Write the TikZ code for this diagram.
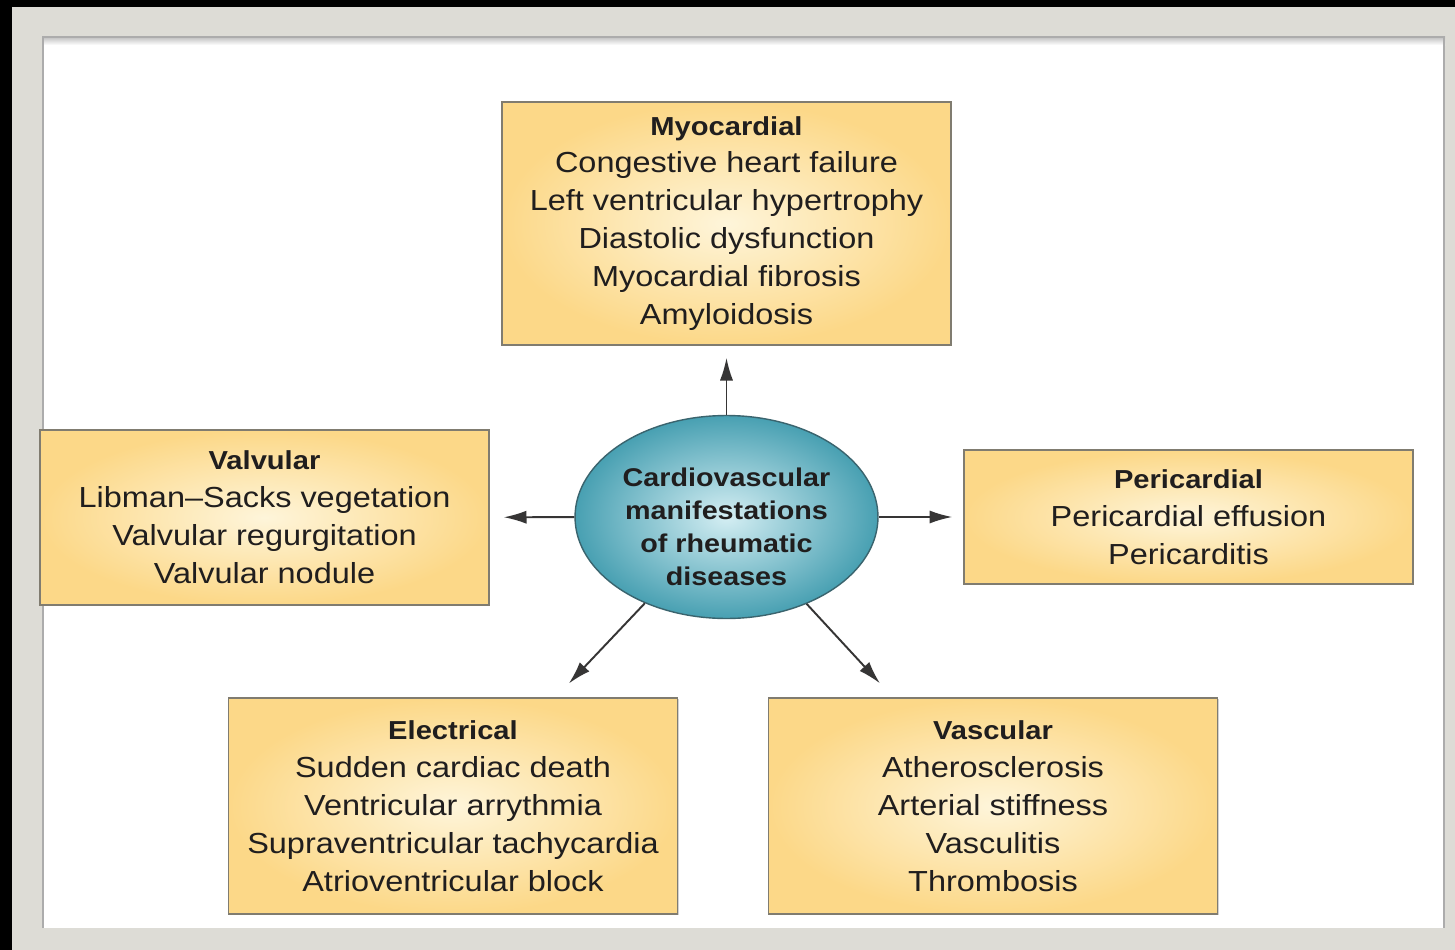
\documentclass[tikz,border=0pt]{standalone}
\usepackage{fontspec}
\setmainfont{Liberation Sans}[FakeStretch=1.12]
\usetikzlibrary{arrows.meta}
\usetikzlibrary{shapes.geometric}
\usetikzlibrary{shadows}
\definecolor{boxin}{RGB}{254,245,218}
\definecolor{boxout}{RGB}{252,216,136}
\definecolor{boxline}{RGB}{128,124,112}
\definecolor{hubin}{RGB}{212,238,243}
\definecolor{hubout}{RGB}{72,160,178}
\definecolor{hubline}{RGB}{58,100,110}
\definecolor{framegray}{RGB}{221,220,214}
\definecolor{inkgray}{RGB}{32,30,30}
\newcommand{\ttl}[1]{{\fontsize{14.8}{21.6}\selectfont\bfseries #1}}

\begin{document}
\begin{tikzpicture}[x=0.02cm,y=-0.02cm,
  box/.style={draw=boxline,line width=0.8pt,inner color=boxin,outer color=boxout,
    minimum width=8.98cm,align=center,text=inkgray,
    font=\fontsize{16.5}{21.6}\selectfont,
    drop shadow={shadow xshift=0.7pt,shadow yshift=-0.7pt,opacity=0.35}},
  hub/.style={ellipse,draw=hubline,line width=0.8pt,inner color=hubin,outer color=hubout,
    minimum width=6.06cm,minimum height=4.06cm,inner sep=0pt},
  hubtext/.style={align=center,text=inkgray,inner sep=0pt,
    font=\fontsize{14.6}{18.7}\selectfont\bfseries},
  conn/.style={-{Latex[length=13pt,width=7.5pt]},line width=1.1pt,draw=inkgray!90,shorten >=#1},
  conn/.default=0.26cm]
 \useasboundingbox (0,0) rectangle (1455,950);
 \fill[black] (0,0) rectangle (1455,950);
 \fill[framegray] (12,7) rectangle (1455,950);
 \fill[white] (42,36) rectangle (1445,928);
 \shade[top color=gray!55,bottom color=white] (42,36) rectangle (1445,45);
 \draw[gray!65,line width=0.8pt] (43,928) -- (43,37) -- (1444,37) -- (1444,928);

 \node[hub] (hub) at (726.5,517) {};
 \node[hubtext] (hubtxt) at ([yshift=-0.2cm]hub.center) {Cardiovascular\\manifestations\\of rheumatic\\diseases};

 \node[box,minimum height=4.86cm] (myo) at (726.5,223.5)
   {\ttl{Myocardial}\\Congestive heart failure\\Left ventricular hypertrophy\\Diastolic dysfunction\\Myocardial fibrosis\\Amyloidosis};
 \node[box,minimum height=3.5cm] (valv) at (264.5,517.5)
   {\ttl{Valvular}\\Libman--Sacks vegetation\\Valvular regurgitation\\Valvular nodule};
 \node[box,minimum height=2.68cm] (peri) at (1188.5,517)
   {\ttl{Pericardial}\\Pericardial effusion\\Pericarditis};
 \node[box,minimum height=4.32cm] (elec) at (453,806)
   {\ttl{Electrical}\\Sudden cardiac death\\Ventricular arrythmia\\Supraventricular tachycardia\\Atrioventricular block};
 \node[box,minimum height=4.32cm] (vasc) at (993,806)
   {\ttl{Vascular}\\Atherosclerosis\\Arterial stiffness\\Vasculitis\\Thrombosis};

 \draw[conn=0.24cm] (hub) -- (myo);
 \draw[conn=0.28cm] (hub) -- (valv);
 \draw[conn=0.22cm] (hub) -- (peri);
 \draw[conn=0.38cm] (hub) -- (elec);
 \draw[conn=0.38cm] (hub) -- (vasc);
\end{tikzpicture}
\end{document}
